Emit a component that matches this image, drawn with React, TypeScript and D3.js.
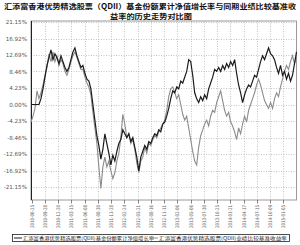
import React, { useEffect, useRef } from "react";
import * as d3 from "d3";

// tick labels along the bottom (one every period)
const dateLabels = [
  "2010-06-25", "2010-09-28", "2010-12-20", "2011-03-15", "2011-06-08",
  "2011-08-30", "2011-11-28", "2012-02-24", "2012-05-21", "2012-08-16",
  "2012-11-11", "2013-02-06", "2013-05-06", "2013-07-30", "2013-10-25",
  "2014-01-21", "2014-04-17", "2014-07-15", "2014-10-09", "2015-01-05",
];

const yTicks = [21.15, 16.92, 12.69, 8.46, 4.23, 0, -4.23, -8.46, -12.69, -16.92, -21.15];

// fund cumulative NAV growth (%), sampled evenly over the period
const fundValues = [
  0, 0, 0, 0, 0, 1.5, 4, 7, 10, 12,
  14, 11.5, 13, 12, 10.5, 12.5, 11, 9.5, 8.5, 9.5,
  11.5, 13.5, 14.5, 12.5, 11, 9.5, 10, 8, 6.5, 6,
  4, 0, -4, -8, -10.5, -14, -11.5, -7.5, -10, -12.5,
  -15.5, -13, -14.5, -12, -10, -9, -6.5, -7.5, -8.5, -7.5,
  -9.5, -8.5, -11, -13.5, -17, -13.5, -12, -10.5, -11.5, -9.5,
  -10, -8.5, -7.5, -8, -6.5, -7, -5, -4.5, -3, -1,
  1.5, 3.5, 3, 4.5, 4, 6, 5.5, 7, 8.5, 11.5,
  11, 7.5, 3, 1.5, 0.5, 2, 1, 2.5, 1.5, 4,
  5.5, 7, 9, 8.5, 9.5, 8.5, 10, 9, 10.5, 9.5,
  11, 10, 11.5, 8, 5, 3, 0.5, 2.5, 4, 5,
  4.5, 6, 7.5, 7, 9, 11, 12.5, 11.5, 13, 14.5,
  13, 12.5, 11.5, 9.5, 8, 10, 7.5, 8.5, 6.5, 8,
  6, 7.5, 10.5, 13.5,
];

// benchmark return (%)
const benchValues = [
  -4.5, -3, -1, 3.5, 1.5, 3, 5, 7.5, 9.5, 13,
  11, 13.5, 11, 12.5, 10, 11.5, 10.5, 8.5, 7.5, 9,
  11, 12.5, 13.5, 12, 10.5, 9, 9, 7, 5.5, 4.5,
  2.5, -2, -6, -10, -16, -21.5, -16, -13.5, -16, -14.5,
  -17, -19, -17.5, -14.5, -12.5, -8.5, -2.5, -5, -8.5, -7.5,
  -10, -9, -11.5, -15, -17.5, -14.5, -13.5, -11, -12.5, -10,
  -10.5, -9, -8, -8.5, -7, -6, -5, -4, -1.5, 2,
  4, 4.5, 3, 1.5, 2.5, 0, -2.5, -4, -3, -6,
  -9, -12, -14.5, -15.5, -11, -8, -6.5, -5, -4, -5.5,
  -3, -1.5, -2, 0.5, 2, 3.5, 1, -1.5, -3, -2,
  -4.5, -5.5, -7, -9, -6, -7.5, -5, -3, -4.5, -1.5,
  0, 1.5, 3, 5, 6.5, 5, 3, 1, 0, -1,
  0.5, -1, 1.5, 3, 2, 4.5, 6.5, 8.5, 10, 9,
  11, 12.5, 10.5, 12,
];

const legendNames = [
  "汇添富香港优势精选股票(QDII)基金份额累计净值增长率",
  "汇添富香港优势精选股票(QDII)业绩比较基准收益率",
];

function App() {
  const ref = useRef<SVGSVGElement>(null);

  useEffect(() => {
    const svg = d3.select(ref.current);
    svg.selectAll("*").remove();

    const left = 31;
    const right = 296.5;
    const top = 21;
    const bottom = 200;
    const n = fundValues.length;

    const x = d3.scaleLinear().domain([0, n - 1]).range([left, right]);
    const xTick = d3.scaleLinear().domain([0, 20]).range([left + 0.5, right]);
    const y = d3.scaleLinear().domain([-21.15, 21.15]).range([187, 22]);

    // title
    svg
      .append("text")
      .attr("x", 4)
      .attr("y", 9.3)
      .attr("textLength", 292)
      .attr("lengthAdjust", "spacingAndGlyphs")
      .attr("font-size", 7.3)
      .attr("font-weight", "bold")
      .attr("font-family", "Noto Sans CJK SC")
      .attr("fill", "#111")
      .text("汇添富香港优势精选股票（QDII）基金份额累计净值增长率与同期业绩比较基准收");
    svg
      .append("text")
      .attr("x", 151)
      .attr("y", 19)
      .attr("text-anchor", "middle")
      .attr("textLength", 82)
      .attr("lengthAdjust", "spacingAndGlyphs")
      .attr("font-size", 7.3)
      .attr("font-weight", "bold")
      .attr("font-family", "Noto Sans CJK SC")
      .attr("fill", "#111")
      .text("益率的历史走势对比图");

    // grid
    const grid = svg.append("g").attr("stroke", "#b5b5b5").attr("stroke-width", 0.8).attr("stroke-dasharray", "1,1.5");
    yTicks.forEach((t) => {
      grid.append("line").attr("x1", left).attr("x2", right).attr("y1", Math.round(y(t)) + 0.5).attr("y2", Math.round(y(t)) + 0.5);
    });
    dateLabels.forEach((_, i) => {
      if (i === 0) return;
      const px = Math.round(xTick(i)) + 0.5;
      grid.append("line").attr("x1", px).attr("x2", px).attr("y1", top).attr("y2", bottom);
    });

    // frame
    svg
      .append("rect")
      .attr("x", left)
      .attr("y", top)
      .attr("width", right - left)
      .attr("height", bottom - top)
      .attr("fill", "none")
      .attr("stroke", "#9a9a9a")
      .attr("stroke-width", 1);
    svg.append("line").attr("x1", left + 0.5).attr("x2", left + 0.5).attr("y1", top).attr("y2", bottom).attr("stroke", "#222");

    // y labels
    svg
      .append("g")
      .selectAll("text")
      .data(yTicks)
      .join("text")
      .attr("x", 27)
      .attr("y", (d) => y(d) + 2)
      .attr("text-anchor", "end")
      .attr("font-size", 5.6)
      .attr("font-family", "DejaVu Sans")
      .attr("fill", "#555")
      .text((d) => d.toFixed(2) + "%");

    // x ticks + labels
    const xg = svg.append("g");
    dateLabels.forEach((lab, i) => {
      const px = Math.round(xTick(i)) + 0.5;
      xg.append("line").attr("x1", px).attr("x2", px).attr("y1", bottom).attr("y2", bottom + 3.5).attr("stroke", "#666").attr("stroke-width", 0.8);
      xg.append("text")
        .attr("transform", `translate(${px + 1.8},205) rotate(-90)`)
        .attr("text-anchor", "end")
        .attr("textLength", 23)
        .attr("lengthAdjust", "spacingAndGlyphs")
        .attr("font-size", 5)
        .attr("font-family", "DejaVu Sans")
        .attr("fill", "#666")
        .text(lab);
    });

    // series
    const line = d3
      .line<number>()
      .x((_, i) => x(i))
      .y((d) => y(d));
    svg.append("path").datum(benchValues).attr("d", line).attr("fill", "none").attr("stroke", "#8c8c8c").attr("stroke-width", 1.1);
    svg.append("path").datum(fundValues).attr("d", line).attr("fill", "none").attr("stroke", "#1c1c1c").attr("stroke-width", 1.2);

    // legend
    const lg = svg.append("g");
    lg.append("rect").attr("x", 12.5).attr("y", 234.5).attr("width", 277).attr("height", 7).attr("fill", "none").attr("stroke", "#222").attr("stroke-width", 0.8);
    const items = [
      { x0: 14, tx: 23, w: 131, color: "#1c1c1c", name: legendNames[0] },
      { x0: 150, tx: 159, w: 128, color: "#8c8c8c", name: legendNames[1] },
    ];
    items.forEach((it) => {
      lg.append("line").attr("x1", it.x0).attr("x2", it.x0 + 8).attr("y1", 238).attr("y2", 238).attr("stroke", it.color).attr("stroke-width", 1);
      lg.append("text")
        .attr("x", it.tx)
        .attr("y", 240)
        .attr("textLength", it.w)
        .attr("lengthAdjust", "spacingAndGlyphs")
        .attr("font-size", 4.8)
        .attr("font-family", "Noto Sans CJK SC")
        .attr("fill", "#222")
        .text(it.name);
    });
  }, []);

  return (
    <svg
      ref={ref}
      width={300}
      height={245}
      style={{ position: "absolute", left: 0, top: 0, background: "#fff" }}
    />
  );
}

export default App;
